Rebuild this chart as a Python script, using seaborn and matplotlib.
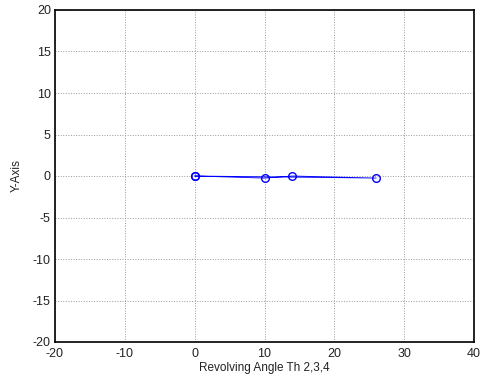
import matplotlib
matplotlib.use("Agg")
import matplotlib.pyplot as plt
import seaborn as sns
import pandas as pd

# Linkage joint positions (closed loop)
x_vals = [0, 10, 14, 26, 0]
y_vals = [0, -0.25, 0, -0.25, 0]
x_ticks = [-20, -10, 0, 10, 20, 30, 40]
y_ticks = [-20, -15, -10, -5, 0, 5, 10, 15, 20]
x_label = "Revolving Angle Th 2,3,4"
y_label = "Y-Axis"

sns.set_style("white")
plt.rcParams['font.family'] = ['Liberation Sans', 'DejaVu Sans']
plt.rcParams['axes.unicode_minus'] = False

df = pd.DataFrame({"x": x_vals, "y": y_vals, "order": range(len(x_vals))})

fig = plt.figure(figsize=(4.83, 3.78), dpi=100)
ax = fig.add_axes([55/483, 1 - 342/378, (474-55)/483, (342-10)/378])

sns.lineplot(data=df, x="x", y="y", sort=False, ax=ax, color="blue",
             linewidth=0.6, marker="o", markersize=5.5, markerfacecolor="none",
             markeredgecolor="blue", markeredgewidth=1.0, estimator=None)

ax.set_xlim(-20, 40)
ax.set_ylim(-20, 20)
ax.set_xticks(x_ticks)
ax.set_yticks(y_ticks)
ax.grid(True, color="#999999", linestyle=":", linewidth=0.7)
for s in ax.spines.values():
    s.set_color("black")
    s.set_linewidth(1.2)
ax.tick_params(direction="in", length=3, labelsize=9, colors="#222222")
ax.tick_params(axis="x", pad=4)
ax.tick_params(axis="y", pad=3)
ax.set_xlabel(x_label, fontsize=8.5, labelpad=2, color="#222222")
ax.set_ylabel(y_label, fontsize=8.5, labelpad=7, color="#222222")

fig.savefig("out.png", dpi=100)
